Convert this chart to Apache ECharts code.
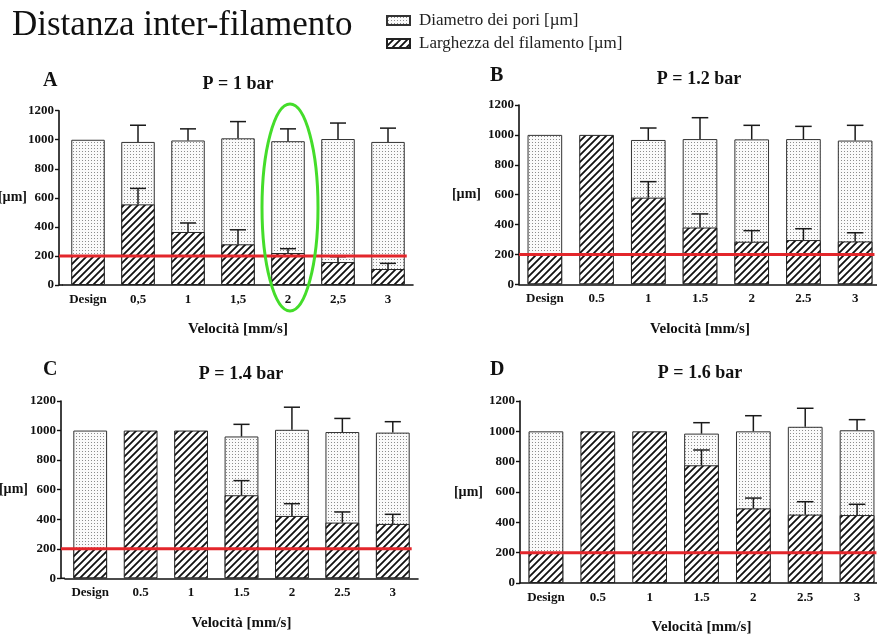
<!DOCTYPE html>
<html>
<head>
<meta charset="utf-8">
<script src="https://cdn.jsdelivr.net/npm/echarts@6/dist/echarts.min.js"></script>
<style>
html,body{margin:0;padding:0;background:#fff;}
#chart{width:877px;height:641px;}
</style>
</head>
<body>
<div id="chart"></div>
<script>
// ---- Data ----
const catsA = ['Design', '0,5', '1', '1,5', '2', '2,5', '3'];
const catsBCD = ['Design', '0.5', '1', '1.5', '2', '2.5', '3'];

const panelLetters = ['A', 'B', 'C', 'D'];
const panelTitles = ['P = 1 bar', 'P = 1.2 bar', 'P = 1.4 bar', 'P = 1.6 bar'];

// Panel A (P = 1 bar)
const poreA = [1000, 985, 995, 1010, 990, 1005, 985];
const poreSdA = [0, 115, 80, 115, 85, 110, 95];
const filA = [200, 555, 365, 280, 220, 158, 110];
const filSdA = [0, 110, 62, 100, 30, 37, 39];

// Panel B (P = 1.2 bar)
const poreB = [1000, null, 966, 972, 970, 972, 962];
const poreSdB = [0, 0, 80, 143, 94, 85, 102];
const filB = [200, 1000, 580, 380, 285, 296, 287];
const filSdB = [0, 0, 107, 91, 74, 76, 58];

// Panel C (P = 1.4 bar)
const poreC = [1000, null, null, 960, 1005, 990, 986];
const poreSdC = [0, 0, 0, 82, 153, 92, 74];
const filC = [200, 1000, 1000, 562, 422, 377, 368];
const filSdC = [0, 0, 0, 99, 83, 72, 65];

// Panel D (P = 1.6 bar)
const poreD = [1000, null, null, 985, 1000, 1030, 1007];
const poreSdD = [0, 0, 0, 72, 103, 122, 70];
const filD = [200, 1000, 1000, 776, 492, 451, 448];
const filSdD = [0, 0, 0, 101, 68, 85, 71];

const designLimit = 200;
const yTicks = [0, 200, 400, 600, 800, 1000, 1200];

const poreName = 'Diametro dei pori [µm]';
const filName = 'Larghezza del filamento [µm]';

// ---- Patterns ----
function hatchCanvas() {
  const n = 7;
  const c = document.createElement('canvas');
  c.width = n; c.height = n;
  const g = c.getContext('2d');
  g.fillStyle = '#fff'; g.fillRect(0, 0, n, n);
  g.strokeStyle = '#111'; g.lineWidth = 1.8;
  g.beginPath();
  g.moveTo(-1, n + 1); g.lineTo(n + 1, -1);
  g.moveTo(-1, 1); g.lineTo(1, -1);
  g.moveTo(n - 1, n + 1); g.lineTo(n + 1, n - 1);
  g.stroke();
  return c;
}
function dotCanvas() {
  const c = document.createElement('canvas');
  c.width = 3; c.height = 3;
  const g = c.getContext('2d');
  g.fillStyle = '#fafafa'; g.fillRect(0, 0, 3, 3);
  g.fillStyle = '#8c8c8c'; g.fillRect(1, 1, 1, 1);
  return c;
}
const hatchPat = { image: hatchCanvas(), repeat: 'repeat' };
const dotPat = { image: dotCanvas(), repeat: 'repeat' };

// ---- Layout ----
const FONT = 'Liberation Serif';
const grids = [
  { left: 63, top: 110.7, width: 350, height: 174.3, outerBoundsMode: 'none', containLabel: false },
  { left: 519, top: 105, width: 362, height: 179.3, outerBoundsMode: 'none', containLabel: false },
  { left: 65, top: 401, width: 353, height: 177.3, outerBoundsMode: 'none', containLabel: false },
  { left: 520, top: 401, width: 363, height: 182, outerBoundsMode: 'none', containLabel: false }
];
const yOffsets = [4, 0, 4, 0];
const yNameGaps = [32, 38, 33, 37];
const panels = [
  { cats: catsA, pore: poreA, poreSd: poreSdA, fil: filA, filSd: filSdA },
  { cats: catsBCD, pore: poreB, poreSd: poreSdB, fil: filB, filSd: filSdB },
  { cats: catsBCD, pore: poreC, poreSd: poreSdC, fil: filC, filSd: filSdC },
  { cats: catsBCD, pore: poreD, poreSd: poreSdD, fil: filD, filSd: filSdD }
];
const letterPos = [[43, 81], [490, 76], [43, 370], [490, 370]];
const titlePos = [[238, 84], [699, 79], [241, 374], [700, 373]];

const BAR_FRAC = 0.67;
const axisColor = '#111';

function errRender(params, api) {
  const i = api.value(0), m = api.value(1), sd = api.value(2);
  if (!sd || m == null) return null;
  const p0 = api.coord([i, m]);
  const p1 = api.coord([i, m + sd]);
  const bw = api.size([1, 0])[0];
  const hw = bw * 0.16;
  const st = { stroke: '#1a1a1a', lineWidth: 1.5 };
  return {
    type: 'group',
    children: [
      { type: 'line', shape: { x1: p0[0], y1: p0[1], x2: p1[0], y2: p1[1] }, style: st },
      { type: 'line', shape: { x1: p1[0] - hw, y1: p1[1], x2: p1[0] + hw, y2: p1[1] }, style: st }
    ]
  };
}
function redRender(params, api) {
  const cs = params.coordSys;
  const off = api.value(2);
  const y = api.coord([0, api.value(1)])[1];
  const bw = api.size([1, 0])[0];
  const lastX = api.coord([6, api.value(1)])[0] + bw * BAR_FRAC / 2;
  const yb = cs.y + cs.height;
  return {
    type: 'group',
    children: [
      // short x-axis extension reaching the offset y-axis
      { type: 'line', shape: { x1: cs.x - off, y1: yb, x2: cs.x, y2: yb },
        style: { stroke: axisColor, lineWidth: 1.6 } },
      { type: 'line', shape: { x1: cs.x - off, y1: y, x2: Math.min(lastX + 2, cs.x + cs.width), y2: y },
        style: { stroke: '#e3262b', lineWidth: 3 } }
    ]
  };
}

const xAxes = [], yAxes = [], series = [], graphics = [];
panels.forEach((p, k) => {
  xAxes.push({
    type: 'category', gridIndex: k, data: p.cats,
    axisLine: { lineStyle: { color: axisColor, width: 1.6 } },
    axisTick: { alignWithLabel: true, length: 4, lineStyle: { color: axisColor, width: 1.4 } },
    axisLabel: { fontFamily: FONT, fontWeight: 'bold', fontSize: 13, color: '#111', margin: 8, interval: 0 },
    name: 'Velocità [mm/s]', nameLocation: 'middle', nameGap: 37, nameMoveOverlap: false,
    nameTextStyle: { fontFamily: FONT, fontWeight: 'bold', fontSize: 15, color: '#111' }
  });
  yAxes.push({
    type: 'value', gridIndex: k, min: yTicks[0], max: yTicks[yTicks.length - 1], interval: 200,
    offset: yOffsets[k],
    axisLine: { show: true, lineStyle: { color: axisColor, width: 1.6 } },
    axisTick: { show: true, length: 4, lineStyle: { color: axisColor, width: 1.4 } },
    axisLabel: { fontFamily: FONT, fontWeight: 'bold', fontSize: 13, color: '#111', margin: 5,
      formatter: v => String(v) },
    splitLine: { show: false },
    name: '[µm]', nameLocation: 'middle', nameRotate: 0, nameGap: yNameGaps[k], nameMoveOverlap: false,
    nameTextStyle: { fontFamily: FONT, fontWeight: 'bold', fontSize: 14, color: '#111' }
  });
  series.push({
    name: poreName, type: 'bar', xAxisIndex: k, yAxisIndex: k,
    data: p.pore, barWidth: (BAR_FRAC * 100) + '%', barGap: '-100%', z: 2,
    itemStyle: { color: dotPat, borderColor: '#333', borderWidth: 1 },
    emphasis: { disabled: true }
  });
  series.push({
    name: filName, type: 'bar', xAxisIndex: k, yAxisIndex: k,
    data: p.fil, barWidth: (BAR_FRAC * 100) + '%', barGap: '-100%', z: 3,
    itemStyle: { color: hatchPat, borderColor: '#222', borderWidth: 1 },
    emphasis: { disabled: true }
  });
  const errData = [];
  p.pore.forEach((v, i) => { if (v != null && p.poreSd[i]) errData.push([i, v, p.poreSd[i]]); });
  p.fil.forEach((v, i) => { if (v != null && p.filSd[i]) errData.push([i, v, p.filSd[i]]); });
  series.push({
    type: 'custom', xAxisIndex: k, yAxisIndex: k, z: 4,
    renderItem: errRender, data: errData, silent: true
  });
  series.push({
    type: 'custom', xAxisIndex: k, yAxisIndex: k, z: 5,
    renderItem: redRender, data: [[0, designLimit, yOffsets[k]]], silent: true
  });
  graphics.push({
    type: 'text', id: 'letter' + k, x: letterPos[k][0], y: letterPos[k][1],
    style: { text: panelLetters[k], font: 'bold 20px "Liberation Serif"', fill: '#111', textVerticalAlign: 'middle', textAlign: 'left' }
  });
  graphics.push({
    type: 'text', id: 'ptitle' + k, x: titlePos[k][0], y: titlePos[k][1],
    style: { text: panelTitles[k], font: 'bold 18px "Liberation Serif"', fill: '#111', textVerticalAlign: 'middle', textAlign: 'center' }
  });
});

graphics.push({
  type: 'text', id: 'mainTitle', x: 12, y: 26,
  style: { text: 'Distanza inter-filamento', font: '35px "Liberation Serif"', fill: '#111',
    textVerticalAlign: 'middle', textAlign: 'left', shadowBlur: 3, shadowColor: 'rgba(0,0,0,0.35)', shadowOffsetX: 1, shadowOffsetY: 1 }
});

const chart = echarts.init(document.getElementById('chart'), null, { renderer: 'canvas' });
chart.setOption({
  animation: false,
  backgroundColor: '#fff',
  grid: grids,
  xAxis: xAxes,
  yAxis: yAxes,
  legend: {
    data: [poreName, filName], orient: 'vertical', left: 381, top: 7, itemWidth: 23, itemHeight: 9,
    itemGap: 6, icon: 'rect', selectedMode: false,
    textStyle: { fontFamily: FONT, fontSize: 17, color: '#222', padding: [0, 0, 0, 4] }
  },
  series: series,
  graphic: graphics
});

// Green highlight ellipse around the "2" bar of panel A
const c0 = chart.convertToPixel({ gridIndex: 0 }, [4, 533]);
const top0 = chart.convertToPixel({ gridIndex: 0 }, [4, 1246]);
const bot0 = chart.convertToPixel({ gridIndex: 0 }, [4, -179]);
chart.setOption({
  graphic: [{
    type: 'ellipse', id: 'greenEllipse', z: 100,
    shape: { cx: c0[0] + 2, cy: (top0[1] + bot0[1]) / 2, rx: 28, ry: (bot0[1] - top0[1]) / 2 },
    style: { fill: null, stroke: '#44dd2a', lineWidth: 3 }
  }]
});
</script>
</body>
</html>
